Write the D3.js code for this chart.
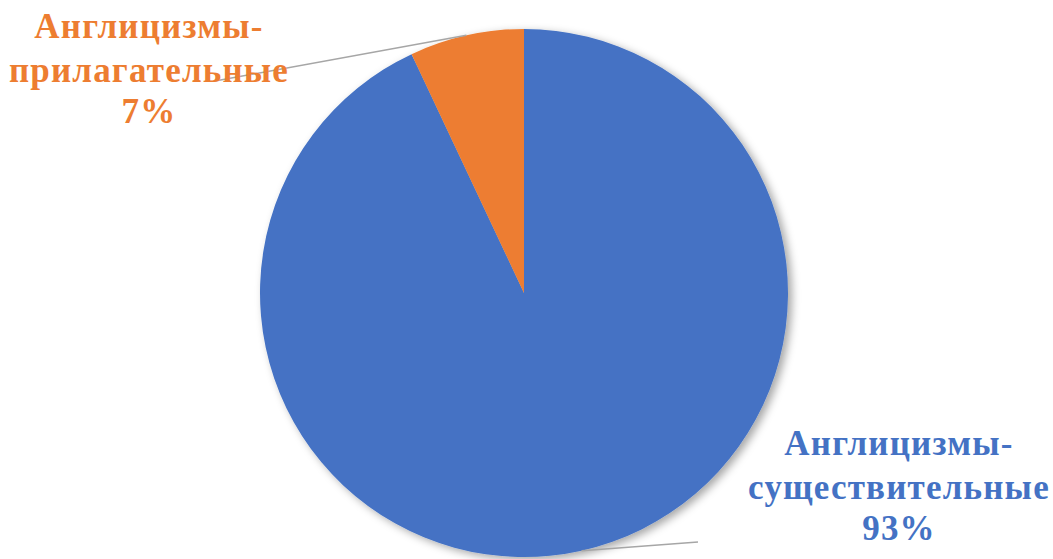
<!DOCTYPE html>
<html>
<head>
  <meta charset="utf-8">
  <script src="https://d3js.org/d3.v7.min.js"></script>
  <style>
    body { margin: 0; background: #fff; }
  </style>
</head>
<body>
  <svg id="chart"></svg>

  <script>
    var categories = ['Англицизмы-существительные', 'Англицизмы-прилагательные'];
    var values = [93, 7];
    var labelLines = [
      ['Англицизмы-', 'существительные', '93%'],
      ['Англицизмы-', 'прилагательные', '7%']
    ];
    var colors = ['#4472C4', '#ED7D31'];

    var width = 1053, height = 559;
    var cx = 524, cy = 293, radius = 264;

    var svg = d3.select('#chart')
      .attr('width', width)
      .attr('height', height);

    var defs = svg.append('defs');
    var shadow = defs.append('filter')
      .attr('id', 'shadow')
      .attr('x', '-10%').attr('y', '-10%')
      .attr('width', '120%').attr('height', '120%');
    shadow.append('feDropShadow')
      .attr('dx', 4).attr('dy', 3)
      .attr('stdDeviation', 4)
      .attr('flood-color', '#000')
      .attr('flood-opacity', 0.35);

    var data = categories.map(function(c, i) {
      return { name: c, value: values[i], lines: labelLines[i], color: colors[i] };
    });

    var pie = d3.pie().sort(null).value(function(d) { return d.value; });
    var arcs = pie(data);

    var arc = d3.arc().innerRadius(0).outerRadius(radius);

    var g = svg.append('g')
      .attr('transform', 'translate(' + cx + ',' + cy + ')');

    g.append('g')
      .attr('filter', 'url(#shadow)')
      .selectAll('path')
      .data(arcs)
      .enter().append('path')
      .attr('d', arc)
      .attr('fill', function(d) { return d.data.color; });

    // label anchors (where the leader line meets the text) and text centres
    var labelPos = [
      { lx: 698 - cx, ly: 542 - cy, tx: 899 - cx, ty: 455 - cy },
      { lx: 215 - cx, ly: 81 - cy, tx: 149 - cx, ty: 38 - cy }
    ];
    var lineSteps = [0, 44, 41];

    g.selectAll('line.leader')
      .data(arcs)
      .enter().append('line')
      .attr('class', 'leader')
      .attr('x1', function(d) {
        var a = (d.startAngle + d.endAngle) / 2;
        return Math.sin(a) * radius;
      })
      .attr('y1', function(d) {
        var a = (d.startAngle + d.endAngle) / 2;
        return -Math.cos(a) * radius;
      })
      .attr('x2', function(d, i) { return labelPos[i].lx; })
      .attr('y2', function(d, i) { return labelPos[i].ly; })
      .attr('stroke', '#A6A6A6')
      .attr('stroke-width', 1.5);

    var labels = g.selectAll('text.label')
      .data(arcs)
      .enter().append('text')
      .attr('class', 'label')
      .attr('font-family', '"Liberation Serif"')
      .attr('font-weight', 'bold')
      .attr('font-size', 35)
      .attr('letter-spacing', 1.2)
      .attr('text-anchor', 'middle')
      .attr('fill', function(d) { return d.data.color; })
      .attr('x', function(d, i) { return labelPos[i].tx; })
      .attr('y', function(d, i) { return labelPos[i].ty; });

    labels.each(function(d, i) {
      var t = d3.select(this);
      d.data.lines.forEach(function(line, j) {
        t.append('tspan')
          .attr('x', labelPos[i].tx)
          .attr('dy', lineSteps[j])
          .text(line);
      });
    });
  </script>
</body>
</html>
